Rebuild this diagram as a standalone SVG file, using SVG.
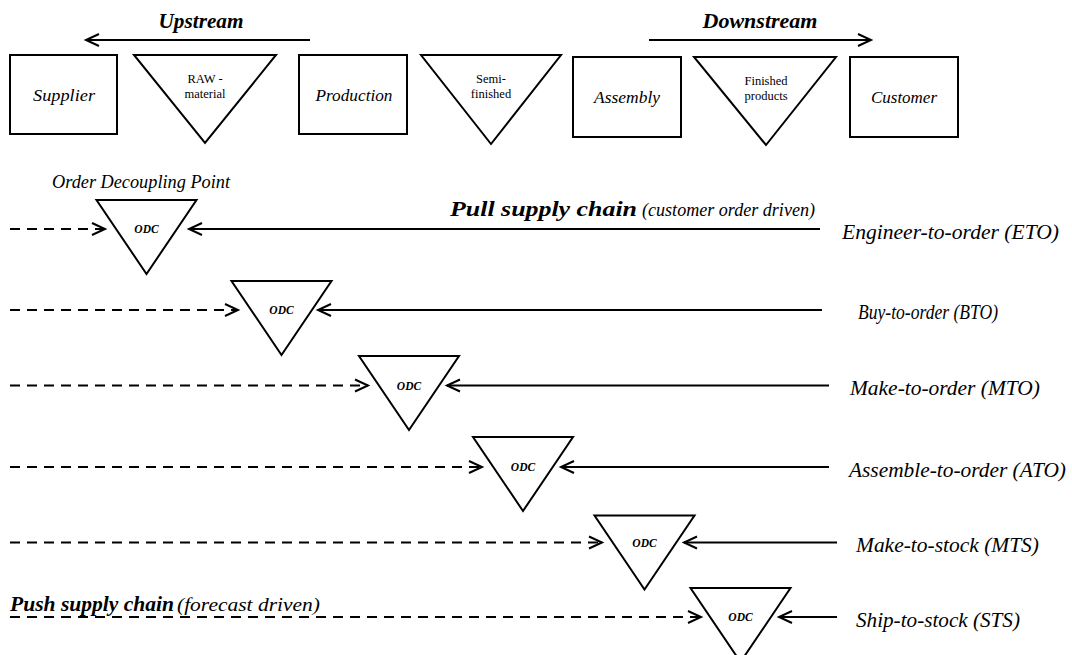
<svg xmlns="http://www.w3.org/2000/svg" width="1072" height="655" viewBox="0 0 1072 655">
  <style>
    text { font-family: "Liberation Serif", "DejaVu Serif", serif; fill: #000; }
    .shape { fill: #fff; stroke: #000; stroke-width: 2; stroke-linejoin: miter; }
    .flow { fill: none; stroke: #000; stroke-width: 2; }
    .dash { fill: none; stroke: #000; stroke-width: 2; stroke-dasharray: 10 7; }
    .head { font-size: 21px; font-weight: bold; font-style: italic; }
    .boxlbl { font-size: 17px; font-style: italic; }
    .trilbl { font-size: 12.5px; }
    .odc { font-size: 11.5px; font-weight: bold; font-style: italic; }
    .rowlbl { font-size: 21px; font-style: italic; }
    .note { font-size: 18px; font-style: italic; }
    .strong { font-size: 22px; font-weight: bold; font-style: italic; }
  </style>
  <defs>
    <marker id="chev" markerUnits="userSpaceOnUse" markerWidth="20" markerHeight="20" viewBox="-16 -10 20 20" refX="0" refY="0" orient="auto" overflow="visible">
      <path d="M-13,-6 L0,0 L-13,6" fill="none" stroke="#000" stroke-width="2" stroke-dasharray="none"/>
    </marker>
  </defs>

  <!-- supply chain stages -->
  <g id="upstream-label">
    <text class="head" x="201" y="28" text-anchor="middle" textLength="85" lengthAdjust="spacingAndGlyphs">Upstream</text>
  </g>
  <g id="downstream-label">
    <text class="head" x="760" y="28" text-anchor="middle" textLength="115" lengthAdjust="spacingAndGlyphs">Downstream</text>
  </g>

  <g id="supplier">
    <rect class="shape" x="10" y="55" width="107" height="79"/>
    <text class="boxlbl" x="64" y="101" text-anchor="middle" textLength="62" lengthAdjust="spacingAndGlyphs">Supplier</text>
  </g>
  <g id="raw-material">
    <polygon class="shape" points="134,55 276,55 205,143"/>
    <text class="trilbl" x="205" y="82.5" text-anchor="middle">RAW -</text>
    <text class="trilbl" x="205" y="98" text-anchor="middle">material</text>
  </g>
  <g id="production">
    <rect class="shape" x="299" y="55" width="108" height="79"/>
    <text class="boxlbl" x="354" y="101" text-anchor="middle" textLength="77" lengthAdjust="spacingAndGlyphs">Production</text>
  </g>
  <g id="semi-finished">
    <polygon class="shape" points="421,55 561,55 491,144"/>
    <text class="trilbl" x="491" y="82.5" text-anchor="middle">Semi-</text>
    <text class="trilbl" x="491" y="98" text-anchor="middle">finished</text>
  </g>
  <g id="assembly">
    <rect class="shape" x="573" y="57" width="108" height="80"/>
    <text class="boxlbl" x="627" y="103" text-anchor="middle" textLength="66" lengthAdjust="spacingAndGlyphs">Assembly</text>
  </g>
  <g id="finished-products">
    <polygon class="shape" points="694,57 836,57 766,145"/>
    <text class="trilbl" x="766" y="84.5" text-anchor="middle">Finished</text>
    <text class="trilbl" x="766" y="100" text-anchor="middle">products</text>
  </g>
  <g id="customer">
    <rect class="shape" x="850" y="57" width="108" height="80"/>
    <text class="boxlbl" x="904" y="103" text-anchor="middle" textLength="66" lengthAdjust="spacingAndGlyphs">Customer</text>
  </g>

  <!-- order decoupling points -->
  <g id="odc-caption">
    <text class="note" x="52" y="188" textLength="178" lengthAdjust="spacingAndGlyphs">Order Decoupling Point</text>
  </g>
  <g id="pull-caption">
    <text class="strong" x="450" y="216" textLength="187" lengthAdjust="spacingAndGlyphs">Pull supply chain</text>
    <text class="note" x="642" y="216" textLength="173" lengthAdjust="spacingAndGlyphs">(customer order driven)</text>
  </g>
  <g id="push-caption">
    <text class="strong" x="10" y="611" font-size="21" textLength="164" lengthAdjust="spacingAndGlyphs">Push supply chain</text>
    <text class="note" x="177" y="611" textLength="143" lengthAdjust="spacingAndGlyphs">(forecast driven)</text>
  </g>

  <g id="odc-eto">
    <polygon class="shape" points="96.5,200 196.5,200 146.5,274"/>
    <text class="odc" x="146.5" y="233" text-anchor="middle">ODC</text>
  </g>
  <g id="odc-bto">
    <polygon class="shape" points="231.5,281 331.5,281 281.5,355"/>
    <text class="odc" x="281.5" y="314" text-anchor="middle">ODC</text>
  </g>
  <g id="odc-mto">
    <polygon class="shape" points="359,356 459,356 409,430"/>
    <text class="odc" x="409" y="389.5" text-anchor="middle">ODC</text>
  </g>
  <g id="odc-ato">
    <polygon class="shape" points="473,437 573,437 523,511"/>
    <text class="odc" x="523" y="471" text-anchor="middle">ODC</text>
  </g>
  <g id="odc-mts">
    <polygon class="shape" points="594.5,515.5 694.5,515.5 644.5,589.5"/>
    <text class="odc" x="644.5" y="546.5" text-anchor="middle">ODC</text>
  </g>
  <g id="odc-sts">
    <polygon class="shape" points="690.5,588 790.5,588 740.5,662"/>
    <text class="odc" x="740.5" y="621" text-anchor="middle">ODC</text>
  </g>

  <!-- strategy labels -->
  <g id="eto">
    <text class="rowlbl" x="842" y="239" textLength="217" lengthAdjust="spacingAndGlyphs">Engineer-to-order (ETO)</text>
  </g>
  <g id="bto">
    <text class="rowlbl" x="858" y="319" font-size="20" textLength="140" lengthAdjust="spacingAndGlyphs">Buy-to-order (BTO)</text>
  </g>
  <g id="mto">
    <text class="rowlbl" x="850" y="395" textLength="190" lengthAdjust="spacingAndGlyphs">Make-to-order (MTO)</text>
  </g>
  <g id="ato">
    <text class="rowlbl" x="849" y="477" textLength="217" lengthAdjust="spacingAndGlyphs">Assemble-to-order (ATO)</text>
  </g>
  <g id="mts">
    <text class="rowlbl" x="856" y="552" textLength="183" lengthAdjust="spacingAndGlyphs">Make-to-stock (MTS)</text>
  </g>
  <g id="sts">
    <text class="rowlbl" x="856" y="627" textLength="164" lengthAdjust="spacingAndGlyphs">Ship-to-stock (STS)</text>
  </g>

  <!-- connectors -->
  <g id="connectors">
    <line class="flow" x1="310" y1="40" x2="86" y2="40" marker-end="url(#chev)"/>
    <line class="flow" x1="649" y1="40" x2="871" y2="40" marker-end="url(#chev)"/>

    <line class="dash" x1="10" y1="229" x2="105" y2="229" marker-end="url(#chev)"/>
    <line class="flow" x1="820" y1="229" x2="189" y2="229" marker-end="url(#chev)"/>

    <line class="dash" x1="10" y1="310" x2="238" y2="310" marker-end="url(#chev)"/>
    <line class="flow" x1="822" y1="310" x2="318" y2="310" marker-end="url(#chev)"/>

    <line class="dash" x1="10" y1="385.5" x2="368" y2="385.5" marker-end="url(#chev)"/>
    <line class="flow" x1="829" y1="385.5" x2="447" y2="385.5" marker-end="url(#chev)"/>

    <line class="dash" x1="10" y1="467" x2="482" y2="467" marker-end="url(#chev)"/>
    <line class="flow" x1="829" y1="467" x2="561" y2="467" marker-end="url(#chev)"/>

    <line class="dash" x1="10" y1="542.5" x2="602" y2="542.5" marker-end="url(#chev)"/>
    <line class="flow" x1="837" y1="542.5" x2="684" y2="542.5" marker-end="url(#chev)"/>

    <line class="dash" x1="10" y1="617" x2="701" y2="617" marker-end="url(#chev)"/>
    <line class="flow" x1="837" y1="617" x2="779" y2="617" marker-end="url(#chev)"/>
  </g>
</svg>
